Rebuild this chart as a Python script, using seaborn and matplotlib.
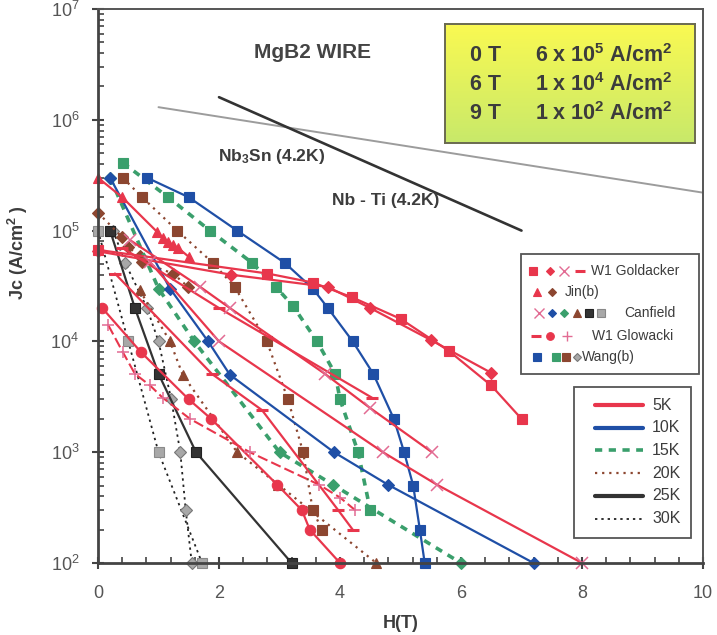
import numpy as np
import matplotlib
matplotlib.use("Agg")
import matplotlib.pyplot as plt
import seaborn as sns
from matplotlib.lines import Line2D
from matplotlib.patches import Rectangle
from matplotlib.ticker import LogLocator, MultipleLocator, NullFormatter

sns.set_theme(style="white")
plt.rcParams["font.family"] = ["Liberation Sans", "DejaVu Sans"]
plt.rcParams["mathtext.fontset"] = "custom"
plt.rcParams["mathtext.rm"] = "Liberation Sans"
plt.rcParams["mathtext.bf"] = "Liberation Sans:bold"
plt.rcParams["mathtext.it"] = "Liberation Sans:italic"

# ---------------- data: field H (T) and critical current density Jc (A/cm^2)
# W1 Goldacker
gold_sq_h = [0, 2.8, 3.55, 4.2, 5.0, 5.8, 6.5, 7.0]
gold_sq_j = [6.7e4, 4.1e4, 3.4e4, 2.5e4, 1.6e4, 8.2e3, 4.0e3, 2.0e3]
gold_dm_h = [0, 2.2, 3.8, 4.5, 5.5, 6.5]
gold_dm_j = [6.5e4, 4.0e4, 3.1e4, 2.0e4, 1.03e4, 5.2e3]
gold_ds_h = [0.4, 2.0, 4.53]
gold_ds_j = [7.0e4, 2.0e4, 3.1e3]
# Jin(b)
jin_tr_h = [0, 0.4, 0.98, 1.07, 1.16, 1.24, 1.32, 1.5]
jin_tr_j = [3.0e5, 2.0e5, 9.7e4, 8.6e4, 7.9e4, 7.4e4, 7.0e4, 5.8e4]
jin_dm_h = [0, 0.4, 0.5, 0.69, 0.73, 1.24, 1.49]
jin_dm_j = [1.45e5, 8.7e4, 7.1e4, 5.9e4, 5.2e4, 4.1e4, 3.1e4]
# Canfield
can_x1_h = [0.53, 1.69, 2.18, 3.75, 4.5, 5.52]
can_x1_j = [8.2e4, 3.1e4, 2.0e4, 5.1e3, 2.5e3, 1.0e3]
can_x2_h = [0.86, 2.0, 4.71, 5.6, 8.0]
can_x2_j = [5.2e4, 1.0e4, 1.0e3, 5.1e2, 1.0e2]
can_bd_h = [0.2, 1.19, 1.82, 2.18, 3.9, 4.79, 7.2]
can_bd_j = [3.0e5, 3.0e4, 1.0e4, 5.0e3, 1.0e3, 5.1e2, 1.0e2]
can_gd_h = [0.2, 1.0, 1.59, 3.0, 3.88, 6.0]
can_gd_j = [3.0e5, 3.0e4, 1.0e4, 1.0e3, 5.1e2, 1.0e2]
can_bt_h = [0.69, 1.19, 1.4, 2.3, 2.98, 4.6]
can_bt_j = [2.9e4, 1.0e4, 5.0e3, 1.0e3, 5.1e2, 1.0e2]
can_ks_h = [0.2, 0.61, 1.0, 1.62, 3.2]
can_ks_j = [1.0e5, 2.0e4, 5.1e3, 1.0e3, 1.0e2]
can_gs_h = [0, 0.5, 1.0, 1.72]
can_gs_j = [1.0e5, 1.0e4, 1.0e3, 1.0e2]
# W1 Glowacki
glo_ci_h = [0.07, 0.71, 1.5, 1.87, 2.96, 3.37, 3.5, 4.0]
glo_ci_j = [2.0e4, 8.0e3, 3.0e3, 2.0e3, 5.1e2, 3.0e2, 2.0e2, 1.0e2]
glo_pl_h = [0.17, 0.41, 0.61, 0.86, 1.07, 1.52, 2.51, 3.65, 4.0, 4.25]
glo_pl_j = [1.4e4, 8.0e3, 5.1e3, 4.0e3, 3.1e3, 2.0e3, 1.0e3, 5.1e2, 3.9e2, 3.0e2]
glo_ds_h = [0.28, 1.88, 2.71, 3.97, 4.21]
glo_ds_j = [4.1e4, 5.1e3, 2.4e3, 3.0e2, 2.0e2]
# Wang(b)
wang_bs_h = [0.81, 1.5, 2.3, 3.09, 3.55, 3.8, 4.21, 4.55, 4.89, 5.06, 5.21, 5.32, 5.4]
wang_bs_j = [3.0e5, 2.0e5, 1.0e5, 5.1e4, 3.0e4, 2.0e4, 1.0e4, 5.1e3, 2.0e3, 1.0e3, 5.0e2, 2.0e2, 1.0e2]
wang_gs_h = [0.41, 1.16, 1.85, 2.55, 2.94, 3.22, 3.62, 3.92, 4.0, 4.3, 4.5]
wang_gs_j = [4.1e5, 2.0e5, 1.0e5, 5.1e4, 3.1e4, 2.1e4, 1.0e4, 5.1e3, 3.0e3, 1.0e3, 3.0e2]
wang_rs_h = [0.41, 0.73, 1.31, 1.9, 2.26, 2.79, 3.14, 3.39, 3.55, 3.7]
wang_rs_j = [3.0e5, 2.0e5, 1.0e5, 5.1e4, 3.1e4, 1.0e4, 3.0e3, 1.0e3, 3.0e2, 2.0e2]
wang_gd_h = [0.25, 0.45, 0.81, 1.0, 1.21, 1.36, 1.45, 1.55]
wang_gd_j = [1.0e5, 5.1e4, 2.0e4, 1.0e4, 3.0e3, 1.0e3, 3.0e2, 1.0e2]
# conventional conductors at 4.2 K
nb3sn_h = [1, 10]
nb3sn_j = [1.3e6, 2.2e5]
nbti_h = [2, 7]
nbti_j = [1.6e6, 1.0e5]

temps = ["5K", "10K", "15K", "20K", "25K", "30K"]
record_fields = ["0 T", "6 T", "9 T"]
record_values = [r"6 x 10$^{\mathbf{5}}$ A/cm$^{\mathbf{2}}$",
                 r"1 x 10$^{\mathbf{4}}$ A/cm$^{\mathbf{2}}$",
                 r"1 x 10$^{\mathbf{2}}$ A/cm$^{\mathbf{2}}$"]

# ---------------- styles
RED = "#e8364c"
PINK = "#e26b93"
BLUE = "#1f4fa6"
GREEN = "#3a9f6c"
BROWN = "#8c4630"
DARK = "#333333"
GREY = "#a8a8a8"
TXT = "#3c3c3c"

temp_style = {
    "5K": dict(color=RED, linestyle="-", linewidth=1.6),
    "10K": dict(color=BLUE, linestyle="-", linewidth=1.6),
    "15K": dict(color=GREEN, linestyle=(0, (2.0, 1.8)), linewidth=2.6),
    "20K": dict(color=BROWN, linestyle=(0, (1.0, 2.2)), linewidth=1.6),
    "25K": dict(color=DARK, linestyle="-", linewidth=1.6),
    "30K": dict(color="#222222", linestyle=(0, (1.3, 2.2)), linewidth=1.3),
}

W, H = 717, 635
fig = plt.figure(figsize=(W / 100, H / 100), dpi=100)
fig.patch.set_facecolor("white")
ax = fig.add_axes([98 / W, 1 - 563 / H, 605 / W, 554 / H])
ax.set_facecolor("white")
ax.set_yscale("log")

SQ, DM, TR, CI = 7.5, 5.8, 7.5, 7.5


def curve(h, j, temp, marker, ms, mfc, mec, mew=0.8, line_color=None):
    st = dict(temp_style[temp])
    if line_color is not None:
        st["color"] = line_color
    sns.lineplot(x=h, y=j, ax=ax, sort=False, estimator=None, legend=False,
                 marker=marker, markersize=ms, markerfacecolor=mfc,
                 markeredgecolor=mec, markeredgewidth=mew, clip_on=False, **st)


# reference conductors
sns.lineplot(x=nb3sn_h, y=nb3sn_j, ax=ax, color="#9c9c9c", linewidth=1.4, legend=False)
sns.lineplot(x=nbti_h, y=nbti_j, ax=ax, color="#333333", linewidth=1.9, legend=False)

# 30K and 25K
curve(can_gs_h, can_gs_j, "30K", "s", SQ, GREY, "#8a8a8a")
curve(wang_gd_h, wang_gd_j, "30K", "D", DM, GREY, "#777777")
curve(can_ks_h, can_ks_j, "25K", "s", SQ, "#333333", "#222222")
# 20K
curve(wang_rs_h, wang_rs_j, "20K", "s", SQ, BROWN, BROWN)
curve(jin_dm_h, jin_dm_j, "20K", "D", DM, BROWN, BROWN)
curve(can_bt_h, can_bt_j, "20K", "^", TR, BROWN, BROWN)
# 15K
curve(wang_gs_h, wang_gs_j, "15K", "s", SQ, GREEN, GREEN)
curve(can_gd_h, can_gd_j, "15K", "D", DM, GREEN, GREEN)
# 10K
curve(wang_bs_h, wang_bs_j, "10K", "s", SQ, BLUE, BLUE)
curve(can_bd_h, can_bd_j, "10K", "D", DM, BLUE, BLUE)
# 5K
curve(gold_sq_h, gold_sq_j, "5K", "s", SQ, RED, RED)
curve(gold_dm_h, gold_dm_j, "5K", "D", DM, RED, RED)
curve(gold_ds_h, gold_ds_j, "5K", "_", 8, RED, RED, mew=2.2)
curve(jin_tr_h, jin_tr_j, "5K", "^", TR, RED, RED)
curve(can_x1_h, can_x1_j, "5K", "x", 8, PINK, PINK, mew=1.1)
curve(can_x2_h, can_x2_j, "5K", "x", 8, PINK, PINK, mew=1.1)
curve(glo_ci_h, glo_ci_j, "5K", "o", CI, RED, RED)
curve(glo_ds_h, glo_ds_j, "5K", "_", 8, RED, RED, mew=2.2)
sns.lineplot(x=glo_pl_h, y=glo_pl_j, ax=ax, sort=False, estimator=None, legend=False,
             color=RED, linestyle=(0, (5, 2)), linewidth=1.5, marker="+",
             markersize=8.5, markeredgecolor=PINK, markeredgewidth=1.1, clip_on=False)

# ---------------- axes
ax.set_xlim(0, 10)
ax.set_ylim(1e2, 1e7)
ax.xaxis.set_major_locator(MultipleLocator(2))
ax.xaxis.set_minor_locator(MultipleLocator(0.4))
ax.yaxis.set_major_locator(LogLocator(base=10))
ax.yaxis.set_minor_locator(LogLocator(base=10, subs=np.arange(2, 10)))
ax.yaxis.set_minor_formatter(NullFormatter())
ax.tick_params(axis="both", which="major", direction="inout", length=9, width=1.5,
               color="#444444", labelsize=13, labelcolor="#555555",
               left=True, bottom=True, top=False, right=False)
ax.tick_params(axis="both", which="minor", direction="in", length=4, width=1.2,
               color="#444444", left=True, bottom=True, top=False, right=False)
ax.tick_params(axis="y", which="major", pad=9)
ax.tick_params(axis="x", which="major", pad=11)
for side in ["left", "bottom"]:
    ax.spines[side].set_linewidth(2.0)
    ax.spines[side].set_color("#444444")
for side in ["top", "right"]:
    ax.spines[side].set_linewidth(1.4)
    ax.spines[side].set_color("#555555")
ax.set_xlabel("H(T)", fontsize=13, fontweight="bold", color=TXT, labelpad=10)
ax.set_ylabel(r"Jc (A/cm$^{\mathbf{2}}$ )", fontsize=13, fontweight="bold", color=TXT)
ax.yaxis.set_label_coords(-0.112, 0.56)

# ---------------- annotations
ax.text(0.354, 0.922, "MgB2 WIRE", transform=ax.transAxes, ha="center", va="center",
        fontsize=15, fontweight="bold", color="#444444")
ax.text(0.198, 0.733, r"Nb$_{\mathbf{3}}$Sn (4.2K)", transform=ax.transAxes, ha="left",
        va="center", fontsize=12.5, fontweight="bold", color=TXT)
ax.text(0.387, 0.655, "Nb - Ti (4.2K)", transform=ax.transAxes, ha="left",
        va="center", fontsize=12.5, fontweight="bold", color=TXT)


def fx(px):
    return px / W


def fy(py):
    return 1 - py / H


# highlighted record values box with a yellow-green gradient
bx0, by0, bx1, by1 = 445, 24, 695, 143
box = fig.add_axes([fx(bx0), fy(by1), fx(bx1) - fx(bx0), fy(by0) - fy(by1)])
top_c = np.array([250, 249, 82]) / 255
bot_c = np.array([200, 233, 106]) / 255
t = np.linspace(0, 1, 100)[:, None]
grad = (top_c[None, :] * (1 - t) + bot_c[None, :] * t)[:, None, :]
box.imshow(grad, aspect="auto", extent=[0, 1, 0, 1], origin="upper")
box.set_xlim(0, 1)
box.set_ylim(0, 1)
box.set_xticks([])
box.set_yticks([])
for s in box.spines.values():
    s.set_color("#6a6a50")
    s.set_linewidth(1.4)
for i, (fld, val) in enumerate(zip(record_fields, record_values)):
    yy = 0.735 - i * 0.243
    box.text(0.10, yy, fld, fontsize=15.5, fontweight="bold", color=TXT, va="center")
    box.text(0.36, yy, val, fontsize=15.5, fontweight="bold", color=TXT, va="center")

# data-source key
fig.add_artist(Rectangle((fx(521), fy(374)), fx(699) - fx(521), fy(254) - fy(374),
                         transform=fig.transFigure, facecolor="white",
                         edgecolor="#555555", linewidth=1.3))


def key_marker(px, py, marker, fc, ec, ms=5.5, mew=0.8):
    fig.add_artist(Line2D([fx(px)], [fy(py)], transform=fig.transFigure, marker=marker,
                          markersize=ms, markerfacecolor=fc, markeredgecolor=ec,
                          markeredgewidth=mew, linestyle="none"))


source_rows = [
    (271, "W1 Goldacker", 591, [(533, "s", RED, RED), (550, "D", RED, RED),
                                (564, "x", PINK, PINK), (580, "_", RED, RED)]),
    (292, "Jin(b)", 565, [(537, "^", RED, RED), (552, "D", BROWN, BROWN)]),
    (313, "Canfield", 624, [(539, "x", PINK, PINK), (552, "D", BLUE, BLUE),
                            (564, "D", GREEN, GREEN), (577, "^", BROWN, BROWN),
                            (589, "s", "#333333", "#222222"), (601, "s", GREY, "#888888")]),
    (336, "W1 Glowacki", 592, [(536, "_", RED, RED), (550, "o", RED, RED),
                               (567, "+", PINK, PINK)]),
    (357, "Wang(b)", 582, [(537, "s", BLUE, BLUE), (556, "s", GREEN, GREEN),
                           (566, "s", BROWN, BROWN), (577, "D", GREY, "#777777")]),
]
for py, label, tx, marks in source_rows:
    for px, m, fc, ec in marks:
        if m == "_":
            key_marker(px, py, m, fc, ec, ms=7, mew=2.2)
        elif m in ("x", "+"):
            key_marker(px, py, m, fc, ec, ms=6.5, mew=1.0)
        elif m == "D":
            key_marker(px, py, m, fc, ec, ms=4.5)
        else:
            key_marker(px, py, m, fc, ec, ms=5.5)
    fig.text(fx(tx), fy(py), label, fontsize=10, color=TXT, va="center", ha="left")

# temperature key
fig.add_artist(Rectangle((fx(574), fy(538)), fx(691) - fx(574), fy(387) - fy(538),
                         transform=fig.transFigure, facecolor="white",
                         edgecolor="#555555", linewidth=1.3))
for i, tk in enumerate(temps):
    py = 405 + i * 22.7
    st = dict(temp_style[tk])
    lw = st.pop("linewidth")
    if tk in ("5K", "10K", "25K"):
        lw = 3.0
    fig.add_artist(Line2D([fx(595), fx(643)], [fy(py), fy(py)], transform=fig.transFigure,
                          linewidth=lw, **st))
    fig.text(fx(652), fy(py), tk, fontsize=11.5, color=TXT, va="center", ha="left")

fig.savefig("out.png", dpi=100)
